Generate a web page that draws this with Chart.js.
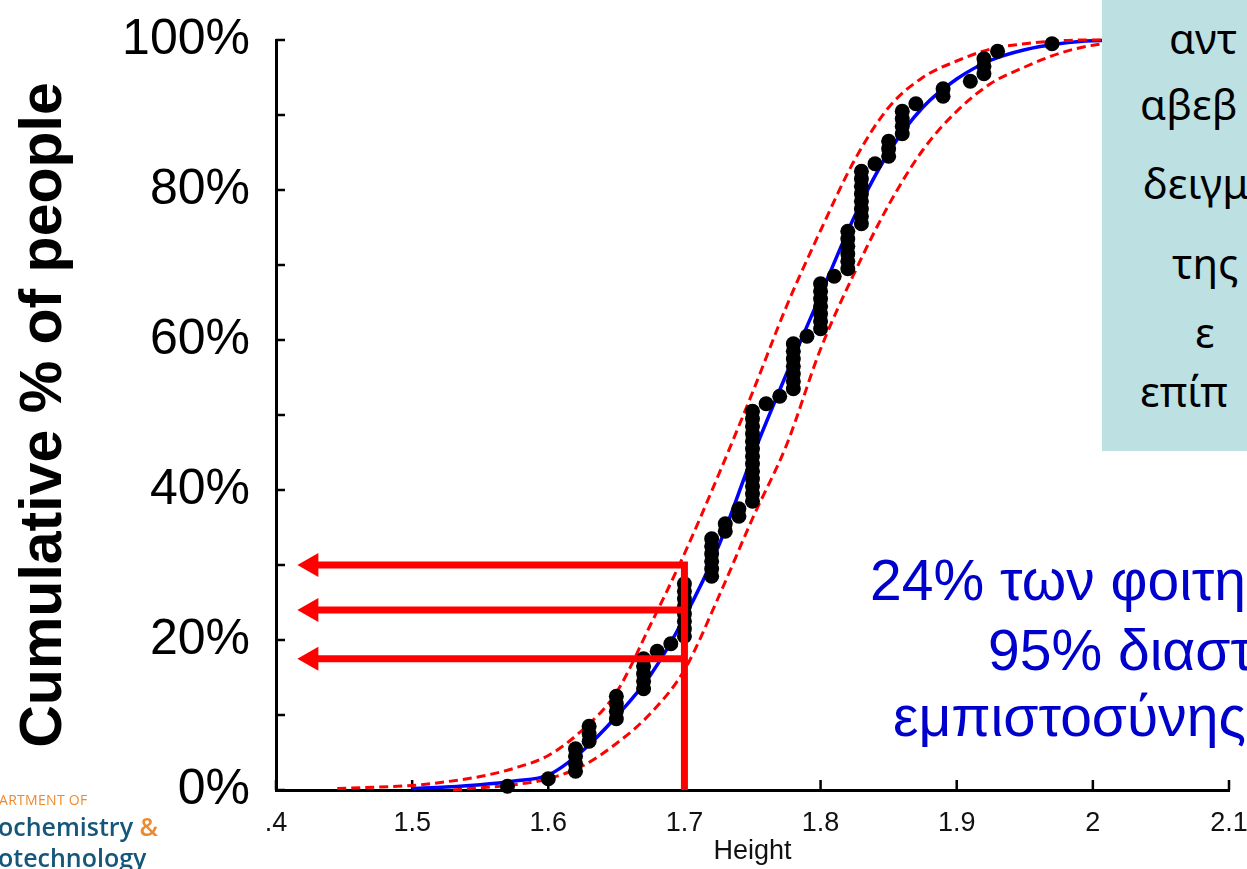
<!DOCTYPE html>
<html>
<head>
<meta charset="utf-8">
<script src="https://cdn.jsdelivr.net/npm/chart.js@4.4.1/dist/chart.umd.min.js"></script>
<style>
html,body{margin:0;padding:0;background:#fff;overflow:hidden;}
#wrap{position:relative;width:1247px;height:869px;overflow:hidden;background:#fff;}
#chartBox{position:absolute;left:0;top:0;width:1247px;height:869px;}
#teal{position:absolute;left:1102px;top:0;width:145px;height:451px;background:#bde0e3;overflow:hidden;}
#teal div{position:absolute;white-space:nowrap;font-family:'Noto Sans','Open Sans',sans-serif;font-size:42px;line-height:42px;color:#000;}
.blue{position:absolute;white-space:nowrap;font-family:'Liberation Sans',Arial,sans-serif;font-size:57px;line-height:57px;color:#0000cc;}
.logo{position:absolute;white-space:nowrap;font-family:'Open Sans','Noto Sans',sans-serif;}
</style>
</head>
<body>
<div id="wrap">
  <div id="chartBox"><canvas id="c"></canvas></div>
  <div id="teal">
    <div style="left:67px;top:17px">αντ</div>
    <div style="left:38px;top:83px">αβεβ</div>
    <div style="left:41px;top:162px">δειγμ</div>
    <div style="left:70px;top:242px">της</div>
    <div style="left:93px;top:311px">ε</div>
    <div style="left:38px;top:370px">επίπ</div>
  </div>
  <div class="blue" style="left:870px;top:552px">24% των φοιτη</div>
  <div class="blue" style="left:988px;top:622px">95% διαστ</div>
  <div class="blue" style="left:893px;top:688px">εμπιστοσύνης</div>
  <div class="logo" style="left:-1px;top:793px;font-size:14px;line-height:14px;color:#ee8a2e;letter-spacing:0.3px">ARTMENT OF</div>
  <div class="logo" style="left:-2px;top:814px;font-size:25px;line-height:25px;font-weight:600;color:#15577a">ochemistry <span style="color:#ee8a2e">&amp;</span></div>
  <div class="logo" style="left:-2px;top:845px;font-size:25px;line-height:25px;font-weight:600;color:#15577a">otechnology</div>
</div>
<script>
// ---------- data ----------
const xTickValues = [1.4, 1.5, 1.6, 1.7, 1.8, 1.9, 2.0, 2.1];
const xTickLabels = ['.4', '1.5', '1.6', '1.7', '1.8', '1.9', '2', '2.1'];
const yTickValues = [0, 10, 20, 30, 40, 50, 60, 70, 80, 90, 100];
const yTickLabels = ['0%', '', '20%', '', '40%', '', '60%', '', '80%', '', '100%'];

const xTitle = 'Height';
const yTitle = 'Cumulative % of people';

// empirical (sample) points
const sampleHeights = [
  1.57, 1.60, 1.62, 1.62, 1.62, 1.62, 1.63, 1.63, 1.63, 1.65,
  1.65, 1.65, 1.65, 1.67, 1.67, 1.67, 1.67, 1.67, 1.68, 1.69,
  1.70, 1.70, 1.70, 1.70, 1.70, 1.70, 1.70, 1.70, 1.72, 1.72,
  1.72, 1.72, 1.72, 1.72, 1.73, 1.73, 1.74, 1.74, 1.75, 1.75,
  1.75, 1.75, 1.75, 1.75, 1.75, 1.75, 1.75, 1.75, 1.75, 1.75,
  1.75, 1.76, 1.77, 1.78, 1.78, 1.78, 1.78, 1.78, 1.78, 1.78,
  1.79, 1.80, 1.80, 1.80, 1.80, 1.80, 1.80, 1.80, 1.81, 1.82,
  1.82, 1.82, 1.82, 1.82, 1.82, 1.83, 1.83, 1.83, 1.83, 1.83,
  1.83, 1.83, 1.83, 1.84, 1.85, 1.85, 1.85, 1.86, 1.86, 1.86,
  1.86, 1.87, 1.89, 1.89, 1.91, 1.92, 1.92, 1.92, 1.93, 1.97
];
const sampleCumPct = [
  0.5, 1.5, 2.5, 3.5, 4.5, 5.5, 6.5, 7.5, 8.5, 9.5,
  10.5, 11.5, 12.5, 13.5, 14.5, 15.5, 16.5, 17.5, 18.5, 19.5,
  20.5, 21.5, 22.5, 23.5, 24.5, 25.5, 26.5, 27.5, 28.5, 29.5,
  30.5, 31.5, 32.5, 33.5, 34.5, 35.5, 36.5, 37.5, 38.5, 39.5,
  40.5, 41.5, 42.5, 43.5, 44.5, 45.5, 46.5, 47.5, 48.5, 49.5,
  50.5, 51.5, 52.5, 53.5, 54.5, 55.5, 56.5, 57.5, 58.5, 59.5,
  60.5, 61.5, 62.5, 63.5, 64.5, 65.5, 66.5, 67.5, 68.5, 69.5,
  70.5, 71.5, 72.5, 73.5, 74.5, 75.5, 76.5, 77.5, 78.5, 79.5,
  80.5, 81.5, 82.5, 83.5, 84.5, 85.5, 86.5, 87.5, 88.5, 89.5,
  90.5, 91.5, 92.5, 93.5, 94.5, 95.5, 96.5, 97.5, 98.5, 99.5
];

// fitted curve (blue)
const fitHeights = [1.50, 1.525, 1.55, 1.575, 1.60, 1.625, 1.65, 1.675, 1.70, 1.725, 1.75, 1.775, 1.80, 1.825, 1.85, 1.875, 1.90, 1.925, 1.95, 1.975, 2.00, 2.05];
const fitCumPct  = [0.2, 0.4, 0.7, 1.2, 2.0, 5.2, 9.8, 15.3, 23.0, 32.5, 44.5, 55.5, 66.0, 76.5, 85.0, 91.0, 94.8, 97.3, 98.7, 99.5, 99.9, 100];

// 95% band, upper-left dashed curve
const upperHeights = [1.445, 1.475, 1.50, 1.525, 1.55, 1.575, 1.60, 1.625, 1.65, 1.675, 1.70, 1.725, 1.75, 1.775, 1.80, 1.825, 1.85, 1.875, 1.90, 1.925, 1.95, 1.975, 2.00, 2.05];
const upperCumPct  = [0.2, 0.4, 0.6, 1.1, 1.8, 2.9, 4.6, 8.0, 13.0, 22.0, 31.5, 42.0, 53.0, 64.5, 74.6, 84.0, 91.0, 95.0, 97.2, 98.8, 99.5, 99.9, 100, 100];

// 95% band, lower-right dashed curve
const lowerHeights = [1.53, 1.55, 1.575, 1.60, 1.625, 1.65, 1.675, 1.70, 1.725, 1.75, 1.775, 1.80, 1.825, 1.85, 1.875, 1.90, 1.925, 1.95, 1.975, 2.00, 2.05];
const lowerCumPct  = [0, 0.3, 0.7, 1.5, 3.2, 6.2, 10.2, 16.0, 25.7, 36.2, 46.0, 58.8, 69.0, 78.0, 85.3, 90.5, 94.2, 96.4, 98.2, 99.3, 100];

// reading annotation (red arrows)
const readHeight = 1.70;
const readPct = [30, 24, 17.5];
const arrowHeadHeight = 1.426;

// ---------- chart ----------
const pts = (xs, ys) => xs.map((x, i) => ({x: x, y: ys[i]}));
const red = '#ff0000';

function arrowDataset(points, radii) {
  return {
    data: points, showLine: true, borderColor: red, borderWidth: 7,
    borderJoinStyle: 'miter', borderCapStyle: 'butt',
    pointRadius: radii, pointStyle: 'triangle', pointRotation: -90,
    pointBackgroundColor: red, pointBorderWidth: 0, pointHoverRadius: radii,
    order: 0, clip: false
  };
}

const inwardTicks = {
  id: 'inwardTicks',
  beforeDatasetsDraw(chart) {
    const {ctx, chartArea, scales} = chart;
    ctx.save();
    ctx.strokeStyle = '#000';
    ctx.lineWidth = 2.5;
    ctx.beginPath();
    yTickValues.forEach(v => {
      const py = scales.y.getPixelForValue(v);
      ctx.moveTo(chartArea.left, py);
      ctx.lineTo(chartArea.left + 9, py);
    });
    xTickValues.forEach(v => {
      const px = scales.x.getPixelForValue(v);
      ctx.moveTo(px, chartArea.bottom);
      ctx.lineTo(px, chartArea.bottom - 10);
    });
    ctx.stroke();
    ctx.restore();
  }
};

function zeroPad(s) { s.paddingTop = 0; s.paddingBottom = 0; s.paddingLeft = 0; s.paddingRight = 0; }

const tickFont = {family: "'Liberation Sans Narrow','Liberation Sans',Arial,sans-serif", size: 27};

new Chart(document.getElementById('c'), {
  type: 'scatter',
  data: {
    datasets: [
      arrowDataset([{x: readHeight, y: 0}, {x: readHeight, y: readPct[0]}, {x: arrowHeadHeight, y: readPct[0]}], [0, 0, 14]),
      arrowDataset([{x: readHeight, y: readPct[1]}, {x: arrowHeadHeight, y: readPct[1]}], [0, 14]),
      arrowDataset([{x: readHeight, y: readPct[2]}, {x: arrowHeadHeight, y: readPct[2]}], [0, 14]),
      {
        data: pts(sampleHeights, sampleCumPct), showLine: false,
        pointRadius: 7.5, pointStyle: 'circle', pointBackgroundColor: '#000',
        pointBorderColor: '#000', pointBorderWidth: 0, order: 1, clip: false
      },
      {
        data: pts(upperHeights, upperCumPct), showLine: true, borderColor: red,
        borderWidth: 3, borderDash: [9, 5], pointRadius: 0,
        cubicInterpolationMode: 'monotone', order: 2, clip: false
      },
      {
        data: pts(lowerHeights, lowerCumPct), showLine: true, borderColor: red,
        borderWidth: 3, borderDash: [9, 5], pointRadius: 0,
        cubicInterpolationMode: 'monotone', order: 2, clip: false
      },
      {
        data: pts(fitHeights, fitCumPct), showLine: true, borderColor: '#0000ff',
        borderWidth: 3.5, pointRadius: 0, cubicInterpolationMode: 'monotone',
        order: 3, clip: false
      }
    ]
  },
  options: {
    responsive: true,
    maintainAspectRatio: false,
    animation: false,
    events: [],
    layout: {padding: {left: 0, top: 40, right: 18, bottom: 0}},
    plugins: {legend: {display: false}, tooltip: {enabled: false}},
    scales: {
      x: {
        type: 'linear', min: 1.4, max: 2.1,
        afterBuildTicks: s => { s.ticks = xTickValues.map(v => ({value: v})); },
        afterFit: s => { s.height = 79; zeroPad(s); },
        grid: {display: false, drawTicks: false},
        border: {display: true, color: '#000', width: 3},
        ticks: {
          autoSkip: false, maxRotation: 0, padding: 17, color: '#111', font: tickFont,
          callback: (v, i) => xTickLabels[i]
        },
        title: {display: true, text: xTitle, color: '#111', font: tickFont, padding: {top: 0, bottom: 1}}
      },
      y: {
        type: 'linear', min: 0, max: 100,
        afterBuildTicks: s => { s.ticks = yTickValues.map(v => ({value: v})); },
        afterFit: s => { s.width = 276; zeroPad(s); },
        grid: {display: false, drawTicks: false},
        border: {display: true, color: '#000', width: 3},
        ticks: {
          autoSkip: false, padding: 26, color: '#000',
          font: {family: "'Liberation Sans',Arial,sans-serif", size: 50},
          callback: (v, i) => yTickLabels[i]
        },
        title: {
          display: true, text: yTitle, color: '#000',
          font: {family: "'Liberation Sans',Arial,sans-serif", size: 59, weight: 'bold'},
          padding: {top: 9, bottom: 0}
        }
      }
    }
  },
  plugins: [inwardTicks]
});
</script>
</body>
</html>
